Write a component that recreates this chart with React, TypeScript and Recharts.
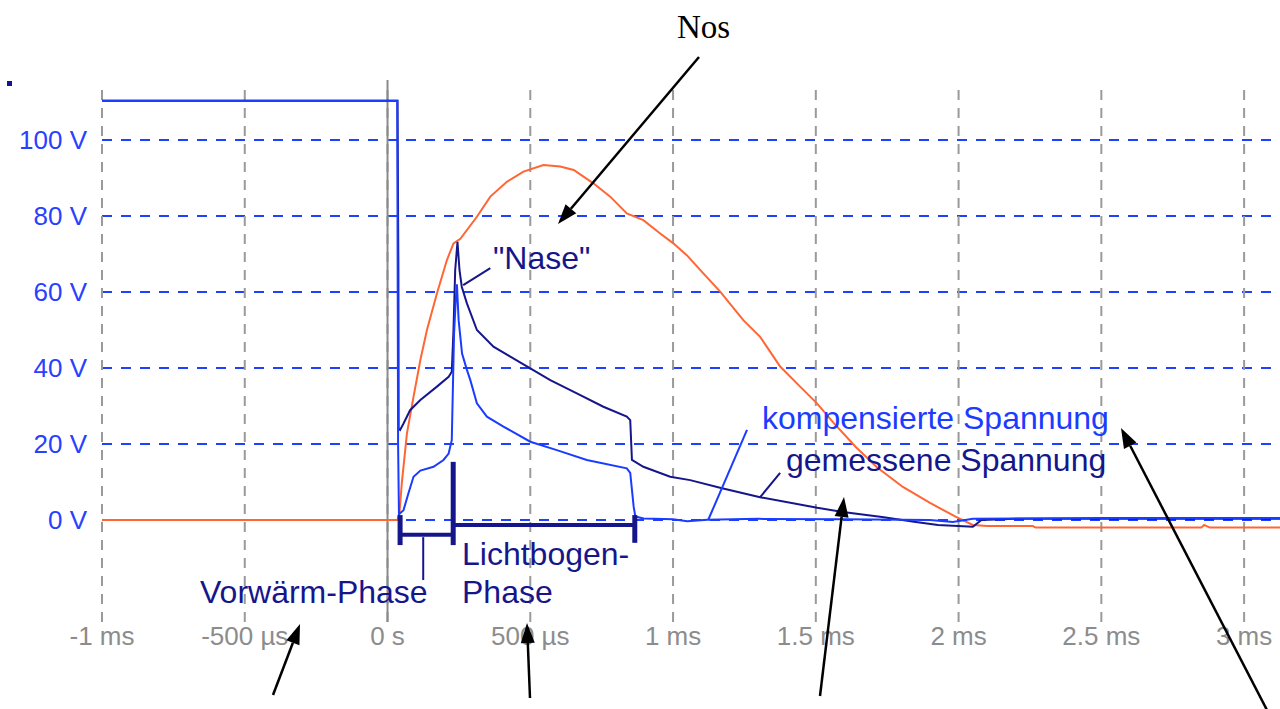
import { CartesianGrid, Line, LineChart, ReferenceLine, XAxis, YAxis } from "recharts";

// time in ms, voltage in V
const xTicks = [-1, -0.5, 0, 0.5, 1, 1.5, 2, 2.5, 3];
const xTickLabels = ["-1 ms", "-500 µs", "0 s", "500 µs", "1 ms", "1.5 ms", "2 ms", "2.5 ms", "3 ms"];
const yTicks = [0, 20, 40, 60, 80, 100];

// kompensierte Spannung (light blue)
const kompensiert = [
  { t: -1, v: 110.3 }, { t: 0.034, v: 110.3 }, { t: 0.037, v: 20 }, { t: 0.04, v: 1.5 },
  { t: 0.044, v: 1.8 }, { t: 0.056, v: 2.6 }, { t: 0.073, v: 7 }, { t: 0.091, v: 11.4 },
  { t: 0.115, v: 13 }, { t: 0.161, v: 14 }, { t: 0.196, v: 15.8 }, { t: 0.214, v: 17.5 },
  { t: 0.225, v: 21 }, { t: 0.229, v: 35 }, { t: 0.233, v: 49 }, { t: 0.239, v: 58 },
  { t: 0.243, v: 62 }, { t: 0.249, v: 52.6 }, { t: 0.261, v: 43.8 }, { t: 0.278, v: 39.5 },
  { t: 0.29, v: 36.8 }, { t: 0.313, v: 30.7 }, { t: 0.348, v: 27.2 }, { t: 0.406, v: 24.6 },
  { t: 0.5, v: 20.6 }, { t: 0.593, v: 18.4 }, { t: 0.698, v: 15.8 }, { t: 0.838, v: 13.6 },
  { t: 0.85, v: 12.4 }, { t: 0.862, v: 3.5 }, { t: 0.868, v: 0.9 }, { t: 0.897, v: 0.4 },
  { t: 1.0, v: 0.2 }, { t: 1.05, v: -0.3 }, { t: 1.12, v: 0.1 }, { t: 1.3, v: 0.3 },
  { t: 1.6, v: 0.2 }, { t: 1.9, v: 0 }, { t: 1.98, v: -0.5 }, { t: 2.05, v: 0.3 },
  { t: 2.5, v: 0.5 }, { t: 3.13, v: 0.5 },
];

// gemessene Spannung (navy)
const gemessen = [
  { t: -1, v: 110.3 }, { t: 0.035, v: 110.3 }, { t: 0.038, v: 66 }, { t: 0.039, v: 24 },
  { t: 0.044, v: 23.7 }, { t: 0.056, v: 25.4 }, { t: 0.079, v: 28.9 }, { t: 0.115, v: 31.6 },
  { t: 0.173, v: 35.1 }, { t: 0.214, v: 37.7 }, { t: 0.225, v: 39 }, { t: 0.231, v: 50 },
  { t: 0.237, v: 65.8 }, { t: 0.245, v: 73.2 }, { t: 0.252, v: 65.8 }, { t: 0.26, v: 61.4 },
  { t: 0.278, v: 57 }, { t: 0.313, v: 50 }, { t: 0.371, v: 45.6 }, { t: 0.43, v: 43 },
  { t: 0.5, v: 39.9 }, { t: 0.57, v: 36.8 }, { t: 0.663, v: 33.3 }, { t: 0.756, v: 29.8 },
  { t: 0.838, v: 27.2 }, { t: 0.85, v: 26.3 }, { t: 0.856, v: 15.8 }, { t: 0.896, v: 14 },
  { t: 0.99, v: 11.4 }, { t: 1.06, v: 10.5 }, { t: 1.168, v: 8.4 }, { t: 1.305, v: 6 },
  { t: 1.505, v: 3.2 }, { t: 1.595, v: 2.1 }, { t: 1.732, v: 0.8 }, { t: 1.85, v: -0.5 },
  { t: 1.928, v: -1.3 }, { t: 2.05, v: -1.8 }, { t: 2.08, v: 0 }, { t: 2.2, v: 0.3 },
  { t: 3.13, v: 0.3 },
];

// "Nos" curve (orange)
const nos = [
  { t: -1, v: 0 }, { t: 0.035, v: 0 }, { t: 0.042, v: 2 }, { t: 0.05, v: 9.7 },
  { t: 0.068, v: 22.8 }, { t: 0.091, v: 32.4 }, { t: 0.115, v: 42.1 }, { t: 0.138, v: 50 },
  { t: 0.173, v: 59.6 }, { t: 0.208, v: 68.4 }, { t: 0.231, v: 72.8 }, { t: 0.255, v: 74 },
  { t: 0.313, v: 79.8 }, { t: 0.36, v: 85.1 }, { t: 0.418, v: 89 }, { t: 0.476, v: 91.7 },
  { t: 0.546, v: 93.4 }, { t: 0.605, v: 93 }, { t: 0.652, v: 92.1 }, { t: 0.721, v: 88.6 },
  { t: 0.78, v: 85.1 }, { t: 0.838, v: 80.7 }, { t: 0.896, v: 78.9 }, { t: 0.955, v: 75.4 },
  { t: 1.001, v: 72.8 }, { t: 1.048, v: 69.7 }, { t: 1.106, v: 64.9 }, { t: 1.165, v: 60.1 },
  { t: 1.246, v: 52.6 }, { t: 1.305, v: 48.2 }, { t: 1.375, v: 40.4 }, { t: 1.445, v: 35.1 },
  { t: 1.504, v: 30.7 }, { t: 1.563, v: 25.5 }, { t: 1.64, v: 19.2 }, { t: 1.714, v: 13.9 },
  { t: 1.805, v: 8.7 }, { t: 1.9, v: 4.5 }, { t: 1.991, v: 0.8 }, { t: 2.05, v: -1.3 },
  { t: 2.1, v: -1.6 }, { t: 2.26, v: -1.6 }, { t: 2.27, v: -2 }, { t: 2.85, v: -2 },
  { t: 2.86, v: -1.3 }, { t: 2.88, v: -2 }, { t: 3.13, v: -2 },
];

// phase boundaries in ms: Vorwärm start, Lichtbogen start, Lichtbogen end
const phaseBounds = [0.044, 0.23, 0.866];

const sans = "'Liberation Sans', Arial, sans-serif";
const navy = "#16168c";
const blue = "#1a3cff";
const orange = "#ff6633";

function Arrow({ x1, y1, x2, y2 }: { x1: number; y1: number; x2: number; y2: number }) {
  const a = Math.atan2(y2 - y1, x2 - x1);
  const len = 20;
  const hw = 7;
  const bx = x2 - len * Math.cos(a);
  const by = y2 - len * Math.sin(a);
  const px = -Math.sin(a) * hw;
  const py = Math.cos(a) * hw;
  return (
    <g>
      <line x1={x1} y1={y1} x2={bx} y2={by} stroke="#000" strokeWidth={2.5} />
      <polygon points={`${x2},${y2} ${bx + px},${by + py} ${bx - px},${by - py}`} fill="#000" />
    </g>
  );
}

export default function App() {
  return (
    <div style={{ position: "absolute", left: 0, top: 0, width: 1280, height: 709, overflow: "hidden", background: "#fff" }}>
      <LineChart width={1280} height={709} margin={{ top: 90, right: 0, bottom: 47, left: 0 }}>
        <CartesianGrid
          vertical={false}
          horizontalValues={yTicks}
          syncWithTicks
          stroke="#2040ff"
          strokeWidth={2}
          strokeDasharray="10 9"
        />
        <CartesianGrid
          horizontal={false}
          verticalValues={xTicks}
          syncWithTicks
          stroke="#9a9a9a"
          strokeWidth={2}
          strokeDasharray="10 8"
        />
        <XAxis
          dataKey="t"
          type="number"
          domain={[-1, 3.1257]}
          allowDataOverflow
          ticks={xTicks}
          interval={0}
          tickFormatter={(v: number) => xTickLabels[xTicks.indexOf(v)]}
          axisLine={false}
          tickLine={false}
          tickSize={0}
          tickMargin={5}
          height={40}
          tick={{ fill: "#8c8c8c", fontSize: 26, fontFamily: sans }}
        />
        <YAxis
          type="number"
          domain={[-26.84, 113.16]}
          allowDataOverflow
          ticks={yTicks}
          interval={0}
          tickFormatter={(v: number) => `${v} V`}
          axisLine={false}
          tickLine={false}
          tickSize={0}
          tickMargin={15}
          width={102}
          tick={{ fill: "#2a40ff", fontSize: 26, fontFamily: sans }}
        />
        <ReferenceLine
          segment={[{ x: 0, y: -26.84 }, { x: 0, y: 115.8 }]}
          ifOverflow="visible"
          stroke="#8a8a8a"
          strokeWidth={2}
        />
        <Line data={nos} dataKey="v" type="linear" stroke={orange} strokeWidth={2} dot={false} isAnimationActive={false} />
        <Line data={gemessen} dataKey="v" type="linear" stroke={navy} strokeWidth={2} dot={false} isAnimationActive={false} />
        <Line data={kompensiert} dataKey="v" type="linear" stroke={blue} strokeWidth={2} dot={false} isAnimationActive={false} />

        {/* phase brackets */}
        <ReferenceLine segment={[{ x: phaseBounds[0], y: 1.3 }, { x: phaseBounds[0], y: -6.6 }]} stroke={navy} strokeWidth={5} />
        <ReferenceLine segment={[{ x: phaseBounds[1], y: 15.3 }, { x: phaseBounds[1], y: -6.6 }]} stroke={navy} strokeWidth={5} />
        <ReferenceLine segment={[{ x: phaseBounds[2], y: 1.3 }, { x: phaseBounds[2], y: -6 }]} stroke={navy} strokeWidth={5} />
        <ReferenceLine segment={[{ x: phaseBounds[0], y: -3.9 }, { x: phaseBounds[1], y: -3.9 }]} stroke={navy} strokeWidth={4} />
        <ReferenceLine segment={[{ x: phaseBounds[1], y: -1.3 }, { x: phaseBounds[2], y: -1.3 }]} stroke={navy} strokeWidth={4} />
        <ReferenceLine segment={[{ x: 0.125, y: -4.5 }, { x: 0.125, y: -15.8 }]} stroke={navy} strokeWidth={2} />

        {/* label pointers */}
        <ReferenceLine segment={[{ x: 0.36, y: 66.3 }, { x: 0.265, y: 61.8 }]} stroke={navy} strokeWidth={2} />
        <ReferenceLine segment={[{ x: 1.259, y: 23.7 }, { x: 1.123, y: 0 }]} stroke={blue} strokeWidth={2} />
        <ReferenceLine segment={[{ x: 1.375, y: 12.4 }, { x: 1.305, y: 6 }]} stroke={navy} strokeWidth={2} />
      </LineChart>

      <svg width={1280} height={709} style={{ position: "absolute", left: 0, top: 0, pointerEvents: "none" }}>
        <rect x={7} y={81} width={5} height={5} fill={navy} />
        <g fontFamily={sans} fontSize={32}>
          <text x={493} y={269} fill={navy}>"Nase"</text>
          <text x={200} y={603} fill={navy}>Vorwärm-Phase</text>
          <text x={462} y={565} fill={navy}>Lichtbogen-</text>
          <text x={462} y={603} fill={navy}>Phase</text>
          <text x={762} y={429} fill={blue}>kompensierte Spannung</text>
          <text x={786} y={471} fill={navy}>gemessene Spannung</text>
        </g>
        <text x={677} y={38} fontFamily="'Liberation Serif', 'Times New Roman', serif" fontSize={33} fill="#000">Nos</text>
        <Arrow x1={699} y1={57} x2={558} y2={224} />
        <Arrow x1={273} y1={695} x2={300} y2={624} />
        <Arrow x1={530} y1={698} x2={527} y2={623} />
        <Arrow x1={820} y1={696} x2={844} y2={497} />
        <Arrow x1={1268} y1={712} x2={1121} y2={428} />
      </svg>
    </div>
  );
}
